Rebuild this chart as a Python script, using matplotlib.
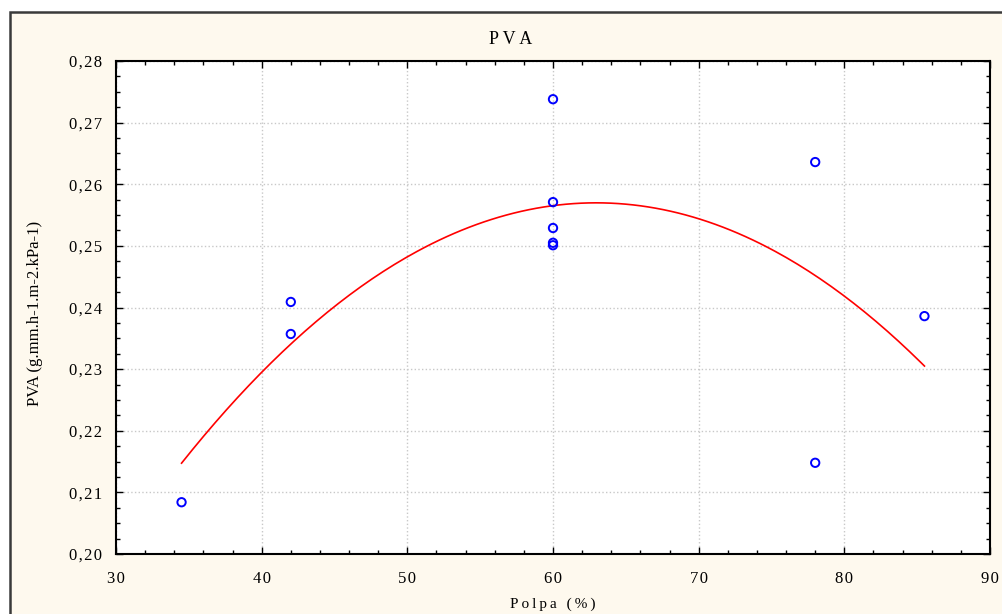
import numpy as np
import matplotlib
matplotlib.use("Agg")
import matplotlib.pyplot as plt
from matplotlib.patches import Rectangle
from matplotlib.ticker import MultipleLocator, FuncFormatter

# data
polpa = [34.5, 42, 42, 60, 60, 60, 60, 60, 78, 78, 85.5]
pva = [0.2084, 0.2409, 0.2357, 0.2738, 0.2571, 0.2529, 0.2505, 0.2501,
       0.2636, 0.2148, 0.2386]

plt.rcParams['font.family'] = ['Liberation Serif', 'DejaVu Serif']

def spaced(s, sp='\u2009'):
    # the original draws text with a loose letter spacing
    return sp.join(s)

W, H = 1003, 614
fig = plt.figure(figsize=(W/100, H/100), dpi=100)
fig.patch.set_facecolor('white')
# cream panel with border, cut off at right and bottom like the original
bg = Rectangle((10/W, -0.1), 1.2, (H-12)/H + 0.1, transform=fig.transFigure,
               facecolor='#fef9ee', edgecolor='#3a3a3a', lw=1.8, zorder=-10)
fig.patches.append(bg)

ax = fig.add_axes([116/W, (H-554)/H, (990-116)/W, (554-61)/H])
ax.set_facecolor('white')

# quadratic fit
c = np.polyfit(polpa, pva, 2)
xs = np.linspace(min(polpa), max(polpa), 200)
ax.plot(xs, np.polyval(c, xs), color='red', lw=1.2, zorder=3)

ax.scatter(polpa, pva, s=36, facecolors='none', edgecolors='blue',
           linewidths=1.4, zorder=4)

ax.set_xlim(30, 90)
ax.set_ylim(0.20, 0.28)
ax.xaxis.set_major_locator(MultipleLocator(10))
ax.xaxis.set_minor_locator(MultipleLocator(2))
ax.yaxis.set_major_locator(MultipleLocator(0.01))
ax.yaxis.set_minor_locator(MultipleLocator(0.0025))
ax.xaxis.set_major_formatter(FuncFormatter(lambda v, p: spaced(f"{v:.0f}", '\u200a')))
ax.yaxis.set_major_formatter(FuncFormatter(lambda v, p: spaced(f"{v:.2f}".replace('.', ','), '\u200a')))
ax.tick_params(which='both', direction='in', top=True, right=True,
               labelsize=12, width=1, color='black')
ax.tick_params(which='major', length=5)
ax.tick_params(axis='y', which='major', pad=10)
ax.tick_params(axis='x', which='major', pad=12)
ax.tick_params(which='minor', length=3)
for s in ax.spines.values():
    s.set_linewidth(1.5)
ax.grid(True, which='major', color='#c8c8c8', ls=':', lw=1)

fig.text(511/W, 1 - 40/H, spaced('PVA'), fontsize=13, ha='center', va='center')
fig.text(553/W, 1 - 604/H, spaced('Polpa (%)'), fontsize=11, ha='center', va='center')
fig.text(35/W, 1 - 313/H, 'PVA (g.mm.h-1.m-2.kPa-1)', fontsize=12,
         rotation=90, ha='center', va='center')

fig.savefig('out.png', dpi=100, facecolor=fig.get_facecolor())
